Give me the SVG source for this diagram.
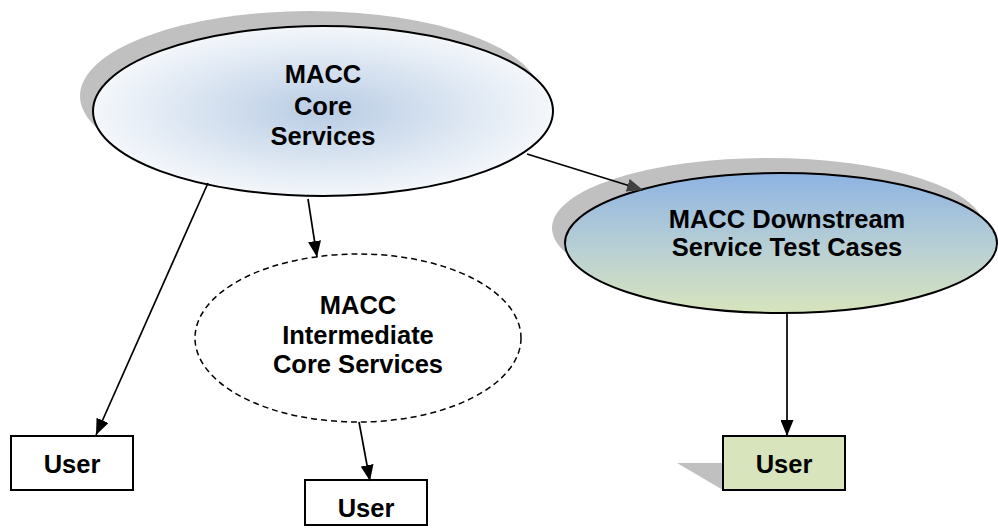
<svg xmlns="http://www.w3.org/2000/svg" width="998" height="530" viewBox="0 0 998 530">
<defs>
<radialGradient id="coreGrad" cx="0.5" cy="0.5" r="0.5">
<stop offset="0" stop-color="#B8CCE4"/>
<stop offset="0.6" stop-color="#DCE6F2"/>
<stop offset="1" stop-color="#F4F7FB"/>
</radialGradient>
<linearGradient id="downGrad" x1="0" y1="0" x2="0" y2="1">
<stop offset="0" stop-color="#8DB3E2"/>
<stop offset="0.55" stop-color="#B9D0D4"/>
<stop offset="1" stop-color="#D7E4BC"/>
</linearGradient>
<marker id="arr" viewBox="0 0 16 13" refX="16" refY="6.5" markerWidth="16" markerHeight="13" markerUnits="userSpaceOnUse" orient="auto">
<path d="M0,0 L16,6.5 L0,13 Z" fill="#000"/>
</marker>
<marker id="arrGray" viewBox="0 0 16 13" refX="16" refY="6.5" markerWidth="16" markerHeight="13" markerUnits="userSpaceOnUse" orient="auto">
<path d="M0,0 L16,6.5 L0,13 Z" fill="#404040"/>
</marker>
</defs>
<style>
.lbl{font-family:"Liberation Sans",Arial,sans-serif;font-weight:bold;font-size:25.5px;fill:#000;text-anchor:middle}
.shadow{fill:#C0C0C0}
.conn{stroke:#000;stroke-width:1.7;fill:none}
.box{fill:#fff;stroke:#000;stroke-width:2}
</style>
<g id="core">
<ellipse class="shadow" cx="310" cy="96" rx="230" ry="85"/>
<ellipse cx="323" cy="111" rx="230" ry="85" fill="url(#coreGrad)" stroke="#000" stroke-width="2"/>
<text class="lbl" x="323" y="83">MACC</text>
<text class="lbl" x="323" y="115">Core</text>
<text class="lbl" x="323" y="145">Services</text>
</g>
<g id="downstream">
<ellipse class="shadow" cx="768" cy="228" rx="216" ry="70"/>
<ellipse cx="781" cy="243" rx="216" ry="70" fill="url(#downGrad)" stroke="#000" stroke-width="2"/>
<text class="lbl" x="787" y="228">MACC Downstream</text>
<text class="lbl" x="787" y="256">Service Test Cases</text>
</g>
<g id="intermediate">
<ellipse cx="358" cy="338" rx="163" ry="84" fill="none" stroke="#000" stroke-width="1.5" stroke-dasharray="6,4"/>
<text class="lbl" x="358" y="314">MACC</text>
<text class="lbl" x="358" y="344">Intermediate</text>
<text class="lbl" x="358" y="373">Core Services</text>
</g>
<g id="user-left">
<rect class="box" x="11" y="436" width="122" height="54"/>
<text class="lbl" x="72" y="473">User</text>
</g>
<g id="user-middle">
<rect class="box" x="305" y="480" width="122" height="45"/>
<text class="lbl" x="366" y="517">User</text>
</g>
<g id="user-right">
<polygon class="shadow" points="677,463 723,463 723,490"/>
<rect x="723" y="436" width="122" height="54" fill="#D7E4BC" stroke="#000" stroke-width="2"/>
<text class="lbl" x="784" y="473">User</text>
</g>
<g id="connectors">
<line class="conn" x1="527" y1="154" x2="643" y2="190" marker-end="url(#arrGray)"/>
<line class="conn" x1="208" y1="183" x2="96" y2="435" marker-end="url(#arr)"/>
<line class="conn" x1="308" y1="199" x2="317" y2="257" marker-end="url(#arr)"/>
<line class="conn" x1="359" y1="422" x2="370" y2="481" marker-end="url(#arr)"/>
<line class="conn" x1="787" y1="313" x2="787" y2="436" marker-end="url(#arr)"/>
</g>
</svg>
